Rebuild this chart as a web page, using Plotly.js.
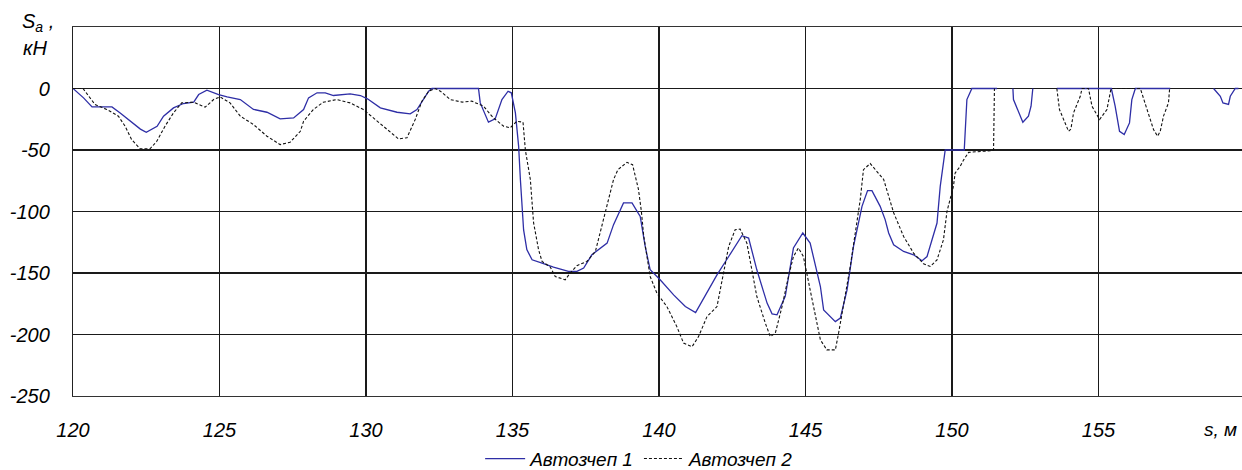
<!DOCTYPE html>
<html>
<head>
<meta charset="utf-8">
<script src="https://cdn.plot.ly/plotly-3.0.1.min.js"></script>
<style>html,body{margin:0;padding:0;background:#fff;}#chart{width:1242px;height:470px;}</style>
</head>
<body>
<div id="chart"></div>
<script>
// Series 1: "Автозчеп 1" (blue solid)
const s1 = [120.0,120.36,120.65,121.33,121.61,121.96,122.3,122.5,122.87,123.09,123.43,123.77,124.12,124.29,124.57,124.97,125.26,125.71,126.16,126.62,127.07,127.53,127.87,128.04,128.33,128.61,128.89,129.46,129.81,130.05,130.49,131.06,131.51,131.74,131.97,132.14,132.25,133.84,133.9,134.18,134.41,134.64,134.85,134.96,135.1,135.21,135.27,135.38,135.49,135.67,136.01,136.4,136.91,137.2,137.43,137.71,138.23,138.45,138.79,139.08,139.36,139.53,139.7,140.04,140.5,140.9,141.25,141.59,141.98,142.38,142.6,142.83,143.06,143.34,143.69,143.86,144.03,144.31,144.59,144.91,145.16,145.51,145.62,146.02,146.19,146.42,146.64,146.93,147.12,147.27,147.55,147.72,147.84,148.01,148.35,148.69,148.98,149.15,149.32,149.49,149.6,149.77,150.42,150.51,150.68,151.54,null,152.08,152.1,152.42,152.61,152.7,152.76,null,153.58,155.44,155.57,155.72,155.88,156.06,156.14,156.26,157.45,null,158.93,159.16,159.25,159.44,159.5,159.67,159.78];
const v1 = [0,-7.6,-15,-15,-20,-26.6,-33,-35.6,-30.7,-22.5,-15.8,-12.2,-11.1,-4.9,-1.4,-4.9,-6.8,-9,-17,-19.3,-24.7,-23.9,-17.1,-7.6,-3.5,-3.5,-5.7,-4.3,-5.7,-8.4,-15.7,-19.3,-20.6,-17.1,-9,-2.2,0,0,-11.7,-27.4,-24.7,-9,-2.2,-3.5,-19.8,-47,-74,-115,-131,-139.3,-142,-145.2,-148.7,-148.7,-146,-135.2,-125.7,-110.7,-93,-93,-104,-128.4,-147.4,-155.5,-167.8,-177.3,-182.2,-167.8,-151.5,-136.6,-128.4,-119.7,-121.6,-147.4,-174.5,-183.2,-184,-169,-129.7,-117.5,-125.7,-161,-180,-189.5,-186.7,-163.7,-128.4,-95.8,-83,-83,-95.8,-106.6,-117.5,-127,-132.5,-135.2,-140,-136.6,-123,-109.4,-79.6,-50,-50,-9,0,0,null,0,-9,-27.4,-22.5,-14.4,0,null,0,0,-14.4,-34.8,-37.5,-28,-9,0,0,null,0,-6.3,-11.7,-13,-6.3,0,0];

// Series 2: "Автозчеп 2" (black dashed)
const s2 = [120.0,120.34,120.75,121.15,121.55,121.78,122.0,122.29,122.63,122.86,123.14,123.43,123.71,124.12,124.29,124.51,124.8,125.02,125.36,125.71,126.16,126.62,127.07,127.41,127.76,127.87,128.2,128.54,129.0,129.46,129.91,130.31,130.71,131.11,131.4,131.68,131.91,132.14,132.37,132.54,132.88,133.28,133.61,134.01,134.35,134.7,134.92,135.15,135.36,135.44,135.61,135.72,135.89,136.01,136.29,136.46,136.8,136.97,137.2,137.54,137.83,138.05,138.28,138.45,138.6,138.91,139.1,139.3,139.4,139.48,139.7,139.93,140.27,140.61,140.84,141.13,141.35,141.64,141.98,142.15,142.38,142.6,142.77,143.0,143.17,143.34,143.63,143.8,143.97,144.2,144.42,144.59,144.76,144.93,145.16,145.51,145.73,146.02,146.13,146.3,146.53,146.7,146.87,146.98,147.21,147.67,148.01,148.35,148.69,149.03,149.26,149.49,149.71,149.83,150.05,150.11,150.28,150.4,150.57,151.37,151.42,151.45,null,153.58,153.67,153.98,154.06,154.15,154.38,154.44,154.66,154.78,155.04,155.29,155.43,156.43,156.66,156.88,157.02,157.11,157.22,157.39,157.43];
const v2 = [0,0,-13,-17,-22.5,-30.7,-41.5,-49,-49,-42.9,-30.7,-19.8,-11.7,-11.1,-13,-15.2,-9,-6.8,-11.7,-22.5,-29.3,-38.8,-45.6,-43.7,-34.8,-26.6,-17.1,-11.2,-9,-11.7,-17.1,-25.2,-33.4,-41,-40,-25.2,-10.3,-2.2,0,-2.2,-9,-11.1,-10.3,-14.4,-23.9,-30.7,-32,-26.6,-27.4,-50,-74,-109,-131,-140.6,-145.2,-152.9,-155.5,-150,-144,-140.6,-132.5,-112,-90.4,-74,-66,-60,-62,-82,-100,-120,-152.9,-166.4,-177.3,-193.6,-207,-209.9,-201.7,-185.4,-177.3,-155.5,-128.4,-114.8,-114.3,-125.7,-147.4,-169.1,-190.8,-201.7,-199,-177.3,-152.9,-136.6,-129.7,-136.6,-163.7,-204.4,-212.5,-212.5,-199,-177.3,-144.7,-117.5,-90.4,-66,-61,-74,-101,-120.3,-133.8,-142.5,-144.7,-139.3,-123,-100,-79.6,-68.7,-63.3,-58,-51.9,-50.5,-50,0,null,0,-17.1,-34.8,-33,-19.8,-6.3,0,0,-14.4,-25.2,-17.1,0,0,-17.1,-33.4,-38.8,-34.8,-22.5,-11.7,0];

const seriesNames = ['Автозчеп 1', 'Автозчеп 2'];
const xTicks = [120,125,130,135,140,145,150,155];
const yTicks = [-250,-200,-150,-100,-50,0];

const FONT = 'Liberation Sans, Arial, sans-serif';

const traces = [
  {x: s1, y: v1, type: 'scatter', mode: 'lines', name: seriesNames[0],
   line: {color: '#2e2ea6', width: 1.3}, connectgaps: false},
  {x: s2, y: v2, type: 'scatter', mode: 'lines', name: seriesNames[1],
   line: {color: '#111', width: 1.1, dash: '3px,2px'}, connectgaps: false}
];

const layout = {
  width: 1242, height: 470,
  margin: {l: 73, r: 0, t: 27, b: 74, autoexpand: false},
  paper_bgcolor: '#fff', plot_bgcolor: '#fff',
  font: {family: FONT, color: '#000'},
  showlegend: true,
  legend: {orientation: 'h', xref: 'container', yref: 'container',
           x: 0.515, xanchor: 'center', y: 0.024, yanchor: 'middle',
           font: {family: FONT, size: 19, style: 'italic'}, itemwidth: 40, traceorder: 'normal'},
  xaxis: {range: [120, 159.9], tickvals: xTicks, ticktext: xTicks.map(String),
          showgrid: true, gridcolor: '#1a1a1a', gridwidth: 1.1, zeroline: false,
          showline: true, linecolor: '#333', linewidth: 1.2, mirror: true,
          ticks: '', ticklabelstandoff: 16, automargin: false,
          tickfont: {family: FONT, size: 20, style: 'italic'}},
  yaxis: {range: [-250, 50], tickvals: yTicks, ticktext: yTicks.map(String),
          showgrid: true, gridcolor: '#1a1a1a', gridwidth: 1.1, zeroline: false,
          showline: true, linecolor: '#222', linewidth: 1.2,
          ticks: '', ticklabelstandoff: 18, automargin: false,
          tickfont: {family: FONT, size: 20, style: 'italic'}},
  annotations: [
    {xref: 'paper', yref: 'paper', x: -0.0453, y: 1.011, xanchor: 'left', yanchor: 'middle',
     text: '<i>S<sub>a</sub> ,</i>', showarrow: false, font: {family: FONT, size: 20}},
    {xref: 'paper', yref: 'paper', x: -0.0445, y: 0.943, xanchor: 'left', yanchor: 'middle',
     text: '<i>кН</i>', showarrow: false, font: {family: FONT, size: 20}},
    {xref: 'paper', yref: 'paper', x: 0.966, y: -0.092, xanchor: 'left', yanchor: 'middle',
     text: '<i>s, м</i>', showarrow: false, font: {family: FONT, size: 19}}
  ]
};

Plotly.newPlot('chart', traces, layout, {displayModeBar: false, staticPlot: true});
</script>
</body>
</html>
